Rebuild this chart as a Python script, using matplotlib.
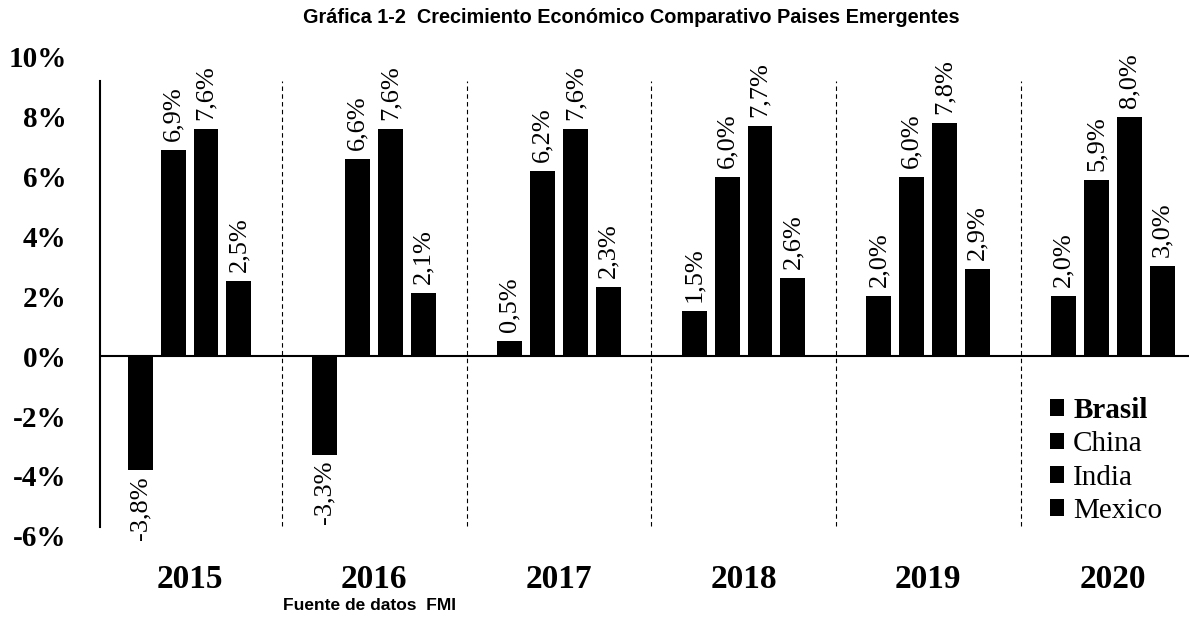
import matplotlib.pyplot as plt
import numpy as np

# Crecimiento economico (%) - FMI
years = ["2015", "2016", "2017", "2018", "2019", "2020"]
countries = ["Brasil", "China", "India", "Mexico"]
brasil = [-3.8, -3.3, 0.5, 1.5, 2.0, 2.0]
china = [6.9, 6.6, 6.2, 6.0, 6.0, 5.9]
india = [7.6, 7.6, 7.6, 7.7, 7.8, 8.0]
mexico = [2.5, 2.1, 2.3, 2.6, 2.9, 3.0]

serif = "Liberation Serif"

fig = plt.figure(figsize=(12.03, 6.18), dpi=100)
ax = fig.add_axes([0.083, 0.133, 0.905, 0.775])

x = np.arange(len(years))
step = 0.178
width = 0.135
series = [brasil, china, india, mexico]
for k, (vals, name) in enumerate(zip(series, countries)):
    pos = x + (k - 1.5) * step
    ax.bar(pos, vals, width=width, color="black", label=name, zorder=3)
    for px, v in zip(pos, vals):
        lbl = f"{v:.1f}%".replace(".", ",")
        if v >= 0:
            ax.text(px, v + 0.3, lbl, rotation=90, ha="center", va="bottom",
                    fontsize=19, family=serif)
        else:
            ax.text(px, v - 0.2, lbl, rotation=90, ha="center", va="top",
                    fontsize=19, family=serif)

# separators between years
for s in x[:-1] + 0.5:
    ax.axvline(s, ymin=0.02, ymax=0.95, color="black", lw=0.8,
               linestyle=(0, (4, 3)), zorder=1)

ax.axhline(0, color="black", lw=1.5, zorder=4)
ax.set_xlim(-0.486, 5.41)
ax.set_ylim(-6, 10)
ax.set_yticks(np.arange(-6, 11, 2))
ax.set_yticklabels([f"{t}%" for t in range(-6, 11, 2)], family=serif,
                   fontsize=21, fontweight="bold")
ax.set_xticks(x)
ax.set_xticklabels(years, family=serif, fontsize=24, fontweight="bold")
ax.tick_params(axis="x", length=0, pad=20)
ax.tick_params(axis="y", length=0, pad=24)
for sp in ["top", "right", "bottom"]:
    ax.spines[sp].set_visible(False)
ax.spines["left"].set_linewidth(1.5)
ax.spines["left"].set_bounds(-5.7, 9.2)

leg = ax.legend(loc="lower right", bbox_to_anchor=(1.0, -0.03), frameon=False,
                prop={"family": serif, "size": 21}, handlelength=0.5,
                handleheight=0.5, handletextpad=0.3, labelspacing=0.25)
leg.get_texts()[0].set_fontweight("bold")

fig.text(0.525, 0.971, "Gráfica 1-2  Crecimiento Económico Comparativo Paises Emergentes",
         ha="center", va="center", fontsize=14.3, fontweight="bold",
         family="Liberation Sans")
fig.text(0.307, 0.021, "Fuente de datos  FMI", ha="center", va="center",
         fontsize=12.5, fontweight="bold", family="Liberation Sans")

plt.savefig("out.png", dpi=100)
